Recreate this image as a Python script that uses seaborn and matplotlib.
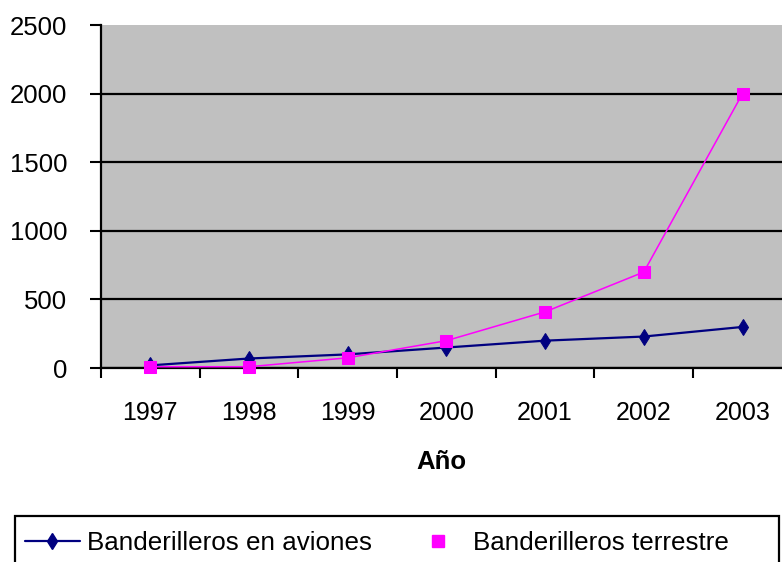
import matplotlib
matplotlib.use("Agg")
import matplotlib.pyplot as plt
import seaborn as sns
import pandas as pd
from matplotlib.lines import Line2D
from matplotlib.patches import Rectangle

# Data
years = ["1997", "1998", "1999", "2000", "2001", "2002", "2003"]
aviones = [20, 70, 100, 150, 200, 230, 300]
terrestre = [10, 10, 75, 200, 410, 700, 2000]
y_ticks = [0, 500, 1000, 1500, 2000, 2500]
label_aviones = "Banderilleros en aviones"
label_terrestre = "Banderilleros terrestre"

df = pd.DataFrame({"Año": years, "aviones": aviones, "terrestre": terrestre})

sns.set_style("white", {"axes.facecolor": "#c0c0c0", "text.color": "black",
                        "xtick.color": "black", "ytick.color": "black",
                        "axes.labelcolor": "black"})
plt.rcParams["font.family"] = ["Liberation Sans", "DejaVu Sans"]

fig = plt.figure(figsize=(7.82, 5.62), dpi=100)
ax = fig.add_axes([0.129, 0.345, 0.871, 0.6105])

navy = "#000080"
pink = "#ff00ff"

sns.lineplot(data=df, x="Año", y="aviones", ax=ax, color=navy, linewidth=1.6,
             marker="d", markersize=8, markeredgecolor=navy, clip_on=False, zorder=4)
sns.lineplot(data=df, x="Año", y="terrestre", ax=ax, color=pink, linewidth=1.1,
             marker="s", markersize=8.5, markeredgecolor=pink, clip_on=False, zorder=5)

ax.set_ylim(0, 2500)
ax.set_xlim(-0.5, 6.4)
ax.set_yticks(y_ticks)
ax.set_yticklabels([str(v) for v in y_ticks], fontsize=18.5)
ax.set_xticks(range(len(years)))
ax.set_xticklabels(years, fontsize=18)
ax.set_xticks([i - 0.5 for i in range(len(years))], minor=True)

ax.tick_params(axis="y", which="major", direction="out", length=8, width=1.5,
               color="black", pad=16, left=True)
ax.tick_params(axis="x", which="major", length=0, pad=24, bottom=True)
ax.tick_params(axis="x", which="minor", direction="out", length=7, width=1.5,
               color="black", bottom=True)

ax.yaxis.grid(True, color="black", linewidth=1.6)
ax.get_ygridlines()[-1].set_visible(False)
ax.set_axisbelow(True)

for s in ["top", "right"]:
    ax.spines[s].set_visible(False)
for s in ["left", "bottom"]:
    ax.spines[s].set_visible(True)
    ax.spines[s].set_color("black")
    ax.spines[s].set_linewidth(1.6)

ax.set_ylabel("")
ax.set_xlabel("Año", fontsize=18.5, fontweight="bold", labelpad=18)

# legend
handles = [
    Line2D([], [], color=navy, linewidth=1.6, marker="d", markersize=8),
    Line2D([], [], color=pink, linestyle="none", marker="s", markersize=8.5),
]
fig.legend(handles, [label_aviones, label_terrestre], loc="center left",
           bbox_to_anchor=(25 / 782, 0.034), ncol=2, frameon=False,
           fontsize=18.7, handlelength=2.1, handletextpad=0.28,
           columnspacing=1.5, borderpad=0, borderaxespad=0)
fig.patches.append(Rectangle((15 / 782, -0.02), 764 / 782, 0.102,
                             transform=fig.transFigure, fill=False,
                             edgecolor="black", linewidth=1.6))

fig.savefig("out.png", dpi=100)
